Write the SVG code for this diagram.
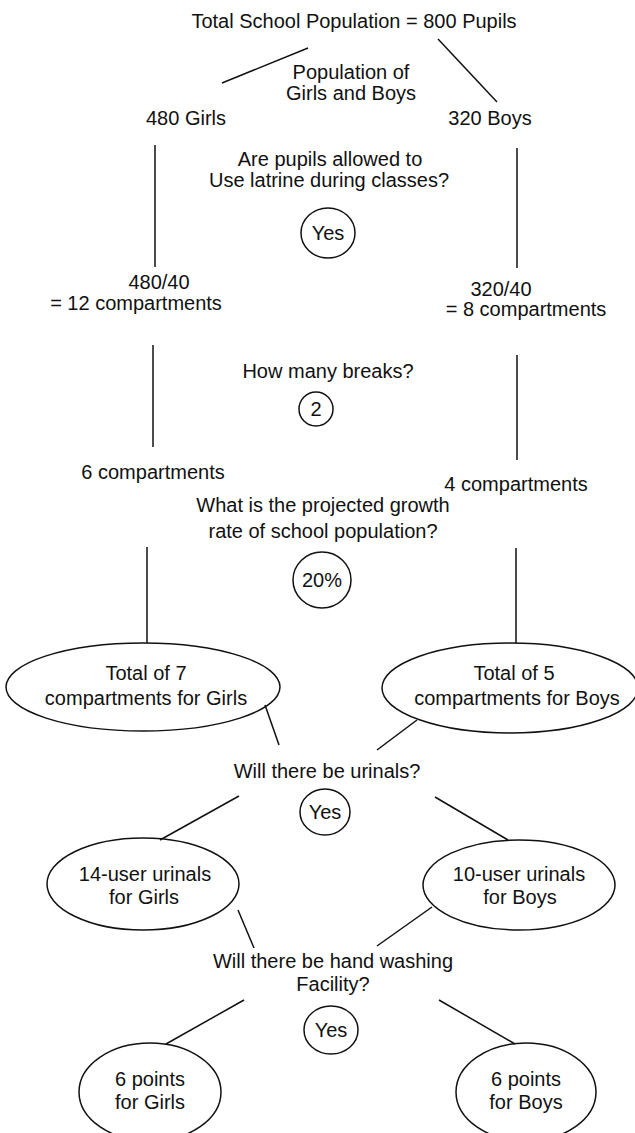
<svg xmlns="http://www.w3.org/2000/svg" width="635" height="1133" viewBox="0 0 635 1133">
<style>
text{font-family:"Liberation Sans",Arial,sans-serif;font-size:20px;fill:#111;text-anchor:middle}
.s{fill:none;stroke:#111;stroke-width:1.5}
</style>
<rect width="635" height="1133" fill="#fff"/>
<g id="connectors" class="s">
<line x1="222" y1="83" x2="308" y2="48"/>
<line x1="438" y1="39" x2="497" y2="102"/>
<line x1="155" y1="145" x2="155" y2="267"/>
<line x1="517" y1="148" x2="517" y2="268"/>
<line x1="153" y1="345" x2="153" y2="447"/>
<line x1="517" y1="355" x2="517" y2="460"/>
<line x1="147" y1="547" x2="147" y2="643"/>
<line x1="516" y1="548" x2="516" y2="643"/>
<line x1="265" y1="705" x2="279" y2="745"/>
<line x1="417" y1="720" x2="377" y2="750"/>
<line x1="239" y1="796" x2="160" y2="840"/>
<line x1="435" y1="797" x2="508" y2="840"/>
<line x1="238" y1="910" x2="254" y2="948"/>
<line x1="432" y1="907" x2="377" y2="946"/>
<line x1="244" y1="1000" x2="166" y2="1044"/>
<line x1="439" y1="1000" x2="515" y2="1044"/>
</g>
<g id="n-total"><text x="354" y="28">Total School Population = 800 Pupils</text></g>
<g id="n-pop"><text x="351" y="79">Population of</text><text x="351" y="100">Girls and Boys</text></g>
<g id="n-girls"><text x="186" y="125">480 Girls</text></g>
<g id="n-boys"><text x="490" y="125">320 Boys</text></g>
<g id="n-q1"><text x="330" y="166">Are pupils allowed to</text><text x="329" y="187">Use latrine during classes?</text></g>
<g id="n-yes1"><ellipse class="s" cx="328" cy="233" rx="27" ry="25"/><text x="328" y="240">Yes</text></g>
<g id="n-g12"><text x="159" y="289">480/40</text><text x="136" y="310">= 12 compartments</text></g>
<g id="n-b8"><text x="501" y="296">320/40</text><text x="526" y="316">= 8 compartments</text></g>
<g id="n-q2"><text x="328" y="378">How many breaks?</text></g>
<g id="n-two"><ellipse class="s" cx="316" cy="409" rx="17" ry="17"/><text x="316" y="416">2</text></g>
<g id="n-g6"><text x="153" y="479">6 compartments</text></g>
<g id="n-b4"><text x="516" y="491">4 compartments</text></g>
<g id="n-q3"><text x="323" y="512">What is the projected growth</text><text x="323" y="538">rate of school population?</text></g>
<g id="n-pct"><ellipse class="s" cx="322" cy="580" rx="29" ry="28"/><text x="322" y="587">20%</text></g>
<g id="n-g7"><ellipse class="s" cx="143" cy="687" rx="137" ry="44"/><text x="146" y="680">Total of 7</text><text x="146" y="705">compartments for Girls</text></g>
<g id="n-b5"><ellipse class="s" cx="510" cy="688" rx="128" ry="45"/><text x="514" y="680">Total of 5</text><text x="517" y="705">compartments for Boys</text></g>
<g id="n-q4"><text x="327" y="778">Will there be urinals?</text></g>
<g id="n-yes2"><ellipse class="s" cx="325" cy="812" rx="25" ry="23"/><text x="325" y="819">Yes</text></g>
<g id="n-u14"><ellipse class="s" cx="143" cy="884" rx="96" ry="46"/><text x="145" y="881">14-user urinals</text><text x="144" y="904">for Girls</text></g>
<g id="n-u10"><ellipse class="s" cx="519" cy="885" rx="96" ry="45"/><text x="519" y="881">10-user urinals</text><text x="520" y="904">for Boys</text></g>
<g id="n-q5"><text x="333" y="968">Will there be hand washing</text><text x="333" y="991">Facility?</text></g>
<g id="n-yes3"><ellipse class="s" cx="331" cy="1030" rx="27" ry="24"/><text x="331" y="1037">Yes</text></g>
<g id="n-p6g"><ellipse class="s" cx="150" cy="1092" rx="71" ry="49"/><text x="150" y="1086">6 points</text><text x="150" y="1109">for Girls</text></g>
<g id="n-p6b"><ellipse class="s" cx="526" cy="1092" rx="70" ry="49"/><text x="526" y="1086">6 points</text><text x="526" y="1109">for Boys</text></g>
</svg>
